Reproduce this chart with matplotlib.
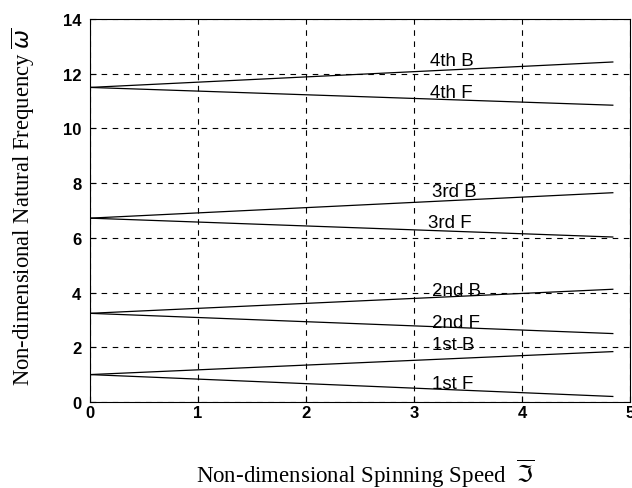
import matplotlib
matplotlib.use('Agg')
import matplotlib.pyplot as plt

# spinning speed range (start, end) and frequencies at both ends
speed = [0.0, 4.84]
modes = ["1st", "2nd", "3rd", "4th"]
backward = [[1.0, 1.84], [3.24, 4.12], [6.72, 7.65], [11.5, 12.43]]
forward = [[1.0, 0.2], [3.24, 2.5], [6.72, 6.03], [11.5, 10.85]]

# curve labels
label_text = ["4th B", "4th F", "3rd B", "3rd F", "2nd B", "2nd F", "1st B", "1st F"]
label_x = [3.15, 3.15, 3.17, 3.13, 3.17, 3.17, 3.17, 3.17]
label_y = [12.5, 11.3, 7.7, 6.55, 4.08, 2.9, 2.1, 0.66]

fig = plt.figure(figsize=(6.32, 4.89), dpi=100)
ax = fig.add_axes([0.142, 0.176, 0.855, 0.783])

for b, f in zip(backward, forward):
    ax.plot(speed, b, color='black', linewidth=0.9)
    ax.plot(speed, f, color='black', linewidth=0.9)

for t, x, y in zip(label_text, label_x, label_y):
    ax.text(x, y, t, fontsize=13.5, family='Liberation Sans', va='center', ha='left')

ax.set_xlim(0, 5)
ax.set_ylim(0, 14)
ax.set_xticks([0, 1, 2, 3, 4, 5])
ax.set_yticks([0, 2, 4, 6, 8, 10, 12, 14])
ax.tick_params(direction='in', labelsize=12, length=4)
ax.tick_params(axis='x', pad=2)
ax.tick_params(axis='y', pad=6)
for lab in ax.get_xticklabels() + ax.get_yticklabels():
    lab.set_family('Liberation Sans')
    lab.set_fontweight('bold')
ax.grid(True, color='black', linestyle=(0, (5, 5)), linewidth=0.8)

ax.set_xlabel(r'Non-dimensional Spinning Speed  $\overline{\Im}$',
              family='Liberation Serif', fontsize=16.5)
ax.set_ylabel(r'Non-dimensional Natural Frequency $\overline{\omega}$',
              family='Liberation Serif', fontsize=16.3)
ax.xaxis.set_label_coords(0.51, -0.141)
ax.yaxis.set_label_coords(-0.098, 0.512)

plt.savefig('out.png', dpi=100)
plt.close()
